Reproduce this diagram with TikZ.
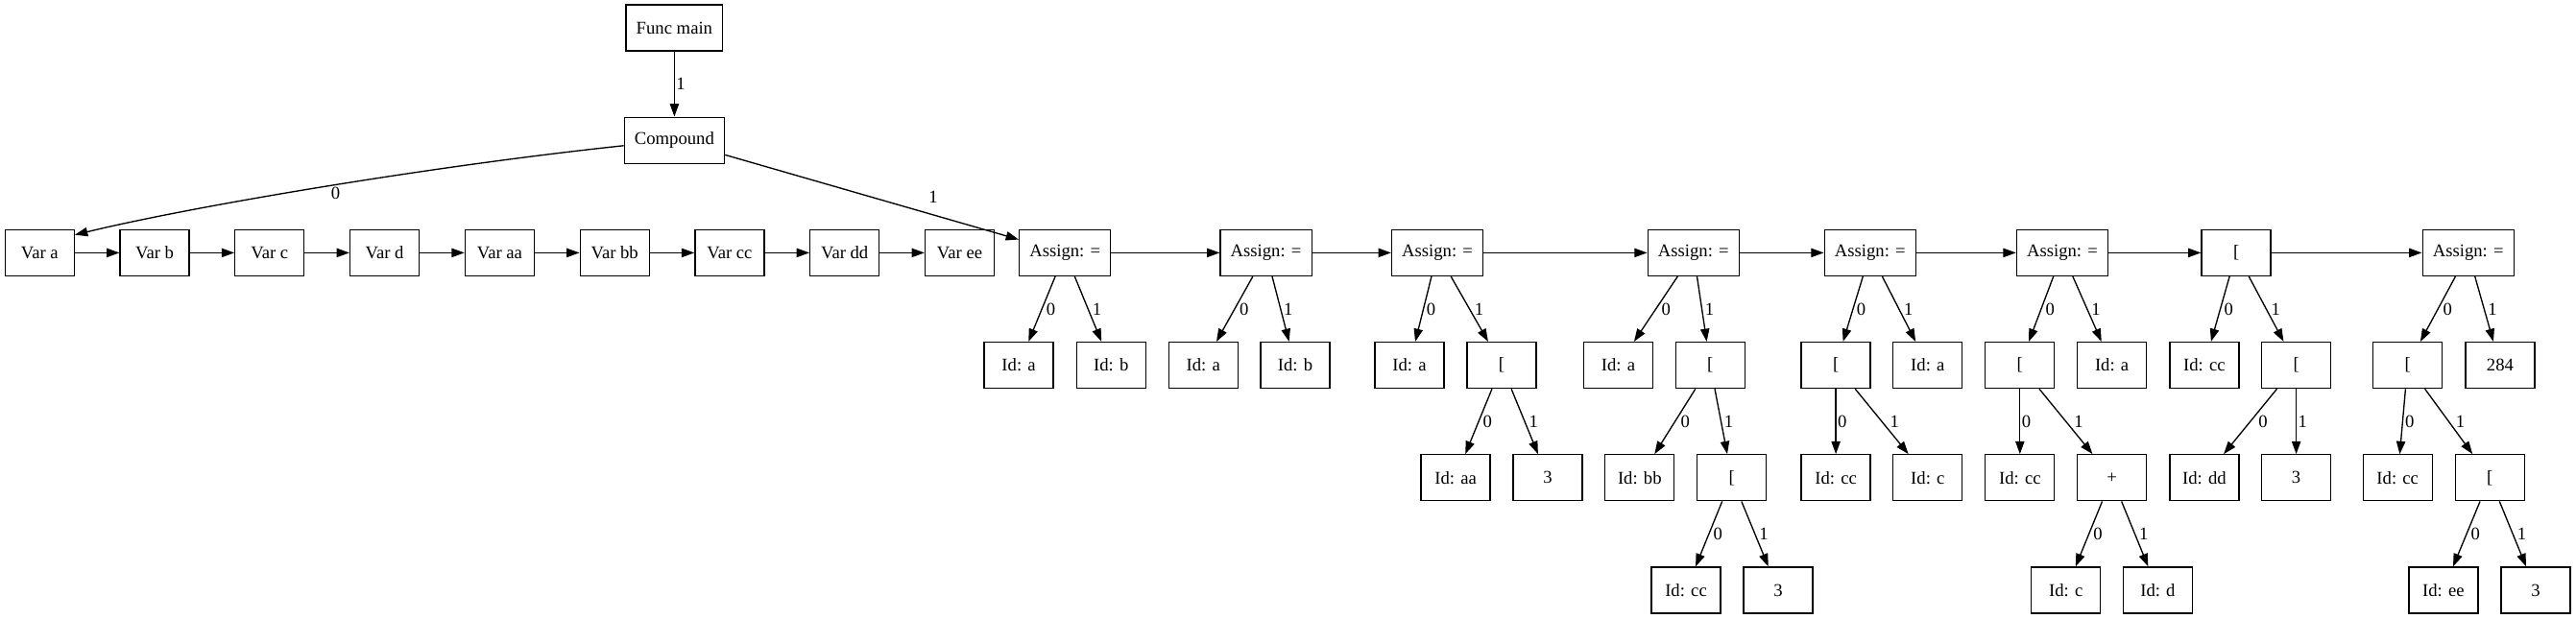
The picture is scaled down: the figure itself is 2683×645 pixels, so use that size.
\documentclass[tikz,border=0pt]{standalone}
\usepackage{fontspec}
\setmainfont{Liberation Serif}
\usetikzlibrary{arrows.meta}

\tikzset{
  ast/.style={draw, line width=1pt, minimum width=54pt, minimum height=36pt,
    inner xsep=8pt, inner ysep=4pt, font=\fontsize{14pt}{16pt}\selectfont},
  link/.style={line width=1pt, -{Triangle[length=10pt,width=7pt]}},
  elabel/.style={right=#1, inner sep=1pt, font=\fontsize{14pt}{16pt}\selectfont},
  elabel/.default=2pt
}

\begin{document}
\begin{tikzpicture}[x=0.75pt,y=-0.75pt]
  \useasboundingbox (0,0) rectangle (2683,645);

  \node[ast] (fmain) at (702.4,29) {Func main};
  \node[ast] (comp) at (702.4,146.2) {Compound};

  % declarations
  \node[ast] (va) at (41.3,263.4) {Var a};
  \node[ast] (vb) at (161.1,263.4) {Var b};
  \node[ast] (vc) at (280.8,263.4) {Var c};
  \node[ast] (vd) at (400.6,263.4) {Var d};
  \node[ast] (vaa) at (520.4,263.4) {Var aa};
  \node[ast] (vbb) at (640.2,263.4) {Var bb};
  \node[ast] (vcc) at (759.9,263.4) {Var cc};
  \node[ast] (vdd) at (879.7,263.4) {Var dd};
  \node[ast] (vee) at (999.5,263.4) {Var ee};

  % statements
  \node[ast] (s1) at (1109.2,263.4) {Assign: =};
  \node[ast] (s2) at (1318.6,263.4) {Assign: =};
  \node[ast] (s3) at (1497.1,263.4) {Assign: =};
  \node[ast] (s4) at (1763.8,263.4) {Assign: =};
  \node[ast] (s5) at (1947.8,263.4) {Assign: =};
  \node[ast] (s6) at (2148,263.4) {Assign: =};
  \node[ast] (s7) at (2329.1,263.4) {[};
  \node[ast] (s8) at (2570.7,263.4) {Assign: =};

  \node[ast] (s1l) at (1061.1,380.6) {Id: a};
  \node[ast] (s1r) at (1157.3,380.6) {Id: b};
  \node[ast] (s2l) at (1253.2,380.6) {Id: a};
  \node[ast] (s2r) at (1349,380.6) {Id: b};
  \node[ast] (s3l) at (1467.9,380.6) {Id: a};
  \node[ast] (s3r) at (1564,380.6) {[};
  \node[ast] (s4l) at (1685.4,380.6) {Id: a};
  \node[ast] (s4r) at (1781.3,380.6) {[};
  \node[ast] (s5l) at (1912.1,380.6) {[};
  \node[ast] (s5r) at (2007.8,380.6) {Id: a};
  \node[ast] (s6l) at (2103.8,380.6) {[};
  \node[ast] (s6r) at (2199.6,380.6) {Id: a};
  \node[ast] (s7l) at (2295.9,380.6) {Id: cc};
  \node[ast] (s7r) at (2391.6,380.6) {[};
  \node[ast] (s8l) at (2507.6,380.6) {[};
  \node[ast] (s8r) at (2603.9,380.6) {284};

  \node[ast] (s3rl) at (1516.1,497.8) {Id: aa};
  \node[ast] (s3rr) at (1612,497.8) {3};
  \node[ast] (s4rl) at (1707.8,497.8) {Id: bb};
  \node[ast] (s4rr) at (1803.7,497.8) {[};
  \node[ast] (s5ll) at (1912.1,497.8) {Id: cc};
  \node[ast] (s5lr) at (2007.8,497.8) {Id: c};
  \node[ast] (s6ll) at (2103.8,497.8) {Id: cc};
  \node[ast] (s6lr) at (2199.6,497.8) {+};
  \node[ast] (s7rl) at (2295.9,497.8) {Id: dd};
  \node[ast] (s7rr) at (2391.6,497.8) {3};
  \node[ast] (s8ll) at (2497.2,497.8) {Id: cc};
  \node[ast] (s8lr) at (2593.2,497.8) {[};

  \node[ast] (s4rrl) at (1756,615) {Id: cc};
  \node[ast] (s4rrr) at (1851.9,615) {3};
  \node[ast] (s6lrl) at (2151.7,615) {Id: c};
  \node[ast] (s6lrr) at (2247.4,615) {Id: d};
  \node[ast] (s8lrl) at (2544.8,615) {Id: ee};
  \node[ast] (s8lrr) at (2641.1,615) {3};

  \draw[link] (fmain) -- node[elabel=0pt] {1} (comp);
  \draw[link] (comp) .. controls (449.5,173) and (200,215) ..
    node[elabel, pos=0.48, below=0pt] {0} ([yshift=-4.5pt]va.north east);
  \draw[link] (comp) -- node[elabel, pos=0.7, above=7pt] {1} (s1);

  \draw[link] (va) -- (vb);
  \draw[link] (vb) -- (vc);
  \draw[link] (vc) -- (vd);
  \draw[link] (vd) -- (vaa);
  \draw[link] (vaa) -- (vbb);
  \draw[link] (vbb) -- (vcc);
  \draw[link] (vcc) -- (vdd);
  \draw[link] (vdd) -- (vee);

  \draw[link] (s1) -- (s2);
  \draw[link] (s2) -- (s3);
  \draw[link] (s3) -- (s4);
  \draw[link] (s4) -- (s5);
  \draw[link] (s5) -- (s6);
  \draw[link] (s6) -- (s7);
  \draw[link] (s7) -- (s8);

  \draw[link] (s1) -- node[elabel] {0} (s1l);
  \draw[link] (s1) -- node[elabel] {1} (s1r);
  \draw[link] (s2) -- node[elabel=2.5pt] {0} (s2l);
  \draw[link] (s2) -- node[elabel=1pt] {1} (s2r);
  \draw[link] (s3) -- node[elabel=1pt] {0} (s3l);
  \draw[link] (s3) -- node[elabel=2.5pt] {1} (s3r);
  \draw[link] (s3r) -- node[elabel] {0} (s3rl);
  \draw[link] (s3r) -- node[elabel] {1} (s3rr);
  \draw[link] (s4) -- node[elabel=3pt] {0} (s4l);
  \draw[link] (s4) -- node[elabel=1pt] {1} (s4r);
  \draw[link] (s4r) -- node[elabel=3pt] {0} (s4rl);
  \draw[link] (s4r) -- node[elabel=1pt] {1} (s4rr);
  \draw[link] (s4rr) -- node[elabel] {0} (s4rrl);
  \draw[link] (s4rr) -- node[elabel] {1} (s4rrr);
  \draw[link] (s5) -- node[elabel=1.5pt] {0} (s5l);
  \draw[link] (s5) -- node[elabel=2.5pt] {1} (s5r);
  \draw[link] (s5l) -- node[elabel=0pt] {0} (s5ll);
  \draw[link] (s5l) -- node[elabel=5pt] {1} (s5lr);
  \draw[link] (s6) -- node[elabel] {0} (s6l);
  \draw[link] (s6) -- node[elabel] {1} (s6r);
  \draw[link] (s6l) -- node[elabel=0pt] {0} (s6ll);
  \draw[link] (s6l) -- node[elabel=5pt] {1} (s6lr);
  \draw[link] (s6lr) -- node[elabel] {0} (s6lrl);
  \draw[link] (s6lr) -- node[elabel] {1} (s6lrr);
  \draw[link] (s7) -- node[elabel=1.5pt] {0} (s7l);
  \draw[link] (s7) -- node[elabel=2.5pt] {1} (s7r);
  \draw[link] (s7r) -- node[elabel=5pt] {0} (s7rl);
  \draw[link] (s7r) -- node[elabel=0pt] {1} (s7rr);
  \draw[link] (s8) -- node[elabel=2.5pt] {0} (s8l);
  \draw[link] (s8) -- node[elabel=1.5pt] {1} (s8r);
  \draw[link] (s8l) -- node[elabel=0.5pt] {0} (s8ll);
  \draw[link] (s8l) -- node[elabel=4pt] {1} (s8lr);
  \draw[link] (s8lr) -- node[elabel] {0} (s8lrl);
  \draw[link] (s8lr) -- node[elabel] {1} (s8lrr);
\end{tikzpicture}
\end{document}
